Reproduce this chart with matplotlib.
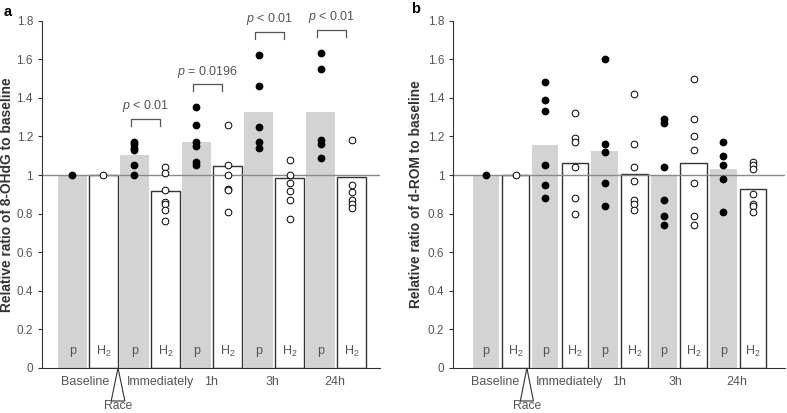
import matplotlib
matplotlib.use('Agg')
from matplotlib import pyplot as plt
from matplotlib import transforms
import numpy as np

plt.rcParams['font.family'] = ['Liberation Sans', 'DejaVu Sans']
plt.rcParams['mathtext.fontset'] = 'custom'
plt.rcParams['mathtext.rm'] = 'Liberation Sans'
plt.rcParams['mathtext.it'] = 'Liberation Sans:italic'

groups = ['Baseline', 'Immediately', '1h', '3h', '24h']
bar_labels = ['p', 'H$_2$'] * 5

# bar heights, order: p, H2 for each time point
ohdg_bars = [1.0, 1.0, 1.104, 0.919, 1.173, 1.047, 1.328, 0.983, 1.328, 0.991]
ohdg_points = [
    [1.0],
    [1.0],
    [1.17, 1.16, 1.14, 1.13, 1.05, 1.0],
    [1.04, 1.01, 0.92, 0.86, 0.85, 0.82, 0.76],
    [1.35, 1.26, 1.17, 1.15, 1.07, 1.05],
    [1.26, 1.05, 1.0, 0.93, 0.92, 0.81],
    [1.62, 1.46, 1.25, 1.17, 1.14],
    [1.08, 1.0, 0.96, 0.915, 0.87, 0.77],
    [1.63, 1.55, 1.18, 1.16, 1.09],
    [1.18, 0.95, 0.91, 0.87, 0.85, 0.83],
]
ohdg_pvals = [None, '$p$ < 0.01', '$p$ = 0.0196', '$p$ < 0.01', '$p$ < 0.01']

drom_bars = [1.0, 1.0, 1.157, 1.062, 1.124, 1.004, 0.998, 1.062, 1.03, 0.93]
drom_points = [
    [1.0],
    [1.0],
    [1.48, 1.39, 1.33, 1.05, 0.95, 0.88],
    [1.32, 1.19, 1.17, 1.04, 0.88, 0.80],
    [1.60, 1.16, 1.12, 0.96, 0.84],
    [1.42, 1.16, 1.04, 0.97, 0.87, 0.85, 0.82],
    [1.29, 1.27, 1.04, 0.87, 0.79, 0.74],
    [1.50, 1.29, 1.20, 1.13, 0.96, 0.79, 0.74],
    [1.17, 1.10, 1.05, 0.98, 0.81],
    [1.07, 1.05, 1.03, 0.90, 0.85, 0.84, 0.81],
]

yticks = [0, 0.2, 0.4, 0.6, 0.8, 1.0, 1.2, 1.4, 1.6, 1.8]

grey = '#d3d3d3'
textcol = '#555555'
axcol = '#333333'


def drawpanel(ax, bars, points, ylabel, letter, pvals, xlim, width, label_x, race_x,
              ylabel_x, letter_xy):
    x = np.arange(len(bars))
    for i in range(len(bars)):
        if i % 2 == 0:
            ax.bar(x[i], bars[i], width, color=grey, edgecolor='none', zorder=1)
        else:
            ax.bar(x[i], bars[i], width, color='white', edgecolor=axcol, linewidth=1.0, zorder=1)
        ax.text(x[i], 0.088, bar_labels[i], ha='center', va='center', fontsize=9, color=textcol, zorder=3)
        pts = points[i]
        if i % 2 == 0:
            ax.plot([x[i]] * len(pts), pts, 'o', color='black', markersize=4.6, zorder=4, clip_on=False)
        else:
            ax.plot([x[i]] * len(pts), pts, 'o', markerfacecolor='white', markeredgecolor='black',
                    markeredgewidth=0.7, markersize=4.8, zorder=4, clip_on=False)

    ax.axhline(1.0, color='#8a8a8a', linewidth=1.0, zorder=2)

    # p-value brackets
    if pvals is not None:
        for g in range(len(pvals)):
            if pvals[g] is None:
                continue
            xp = x[2 * g]
            top = max(points[2 * g]) + 0.12
            x0 = xp - 0.1
            x1 = xp + 0.83
            ax.plot([x0, x0, x1, x1], [top - 0.035, top, top, top - 0.035], color=textcol, linewidth=0.9)
            ax.text((x0 + x1) / 2, top + 0.025, pvals[g], ha='center', va='bottom', fontsize=9, color=textcol)

    ax.set_xlim(xlim)
    ax.set_ylim(0, 1.8)
    ax.set_yticks(yticks)
    ax.set_yticklabels(['%g' % v for v in yticks])
    ax.set_xticks([])
    ax.tick_params(axis='y', direction='out', length=3, width=0.8, colors=axcol, labelcolor=textcol, labelsize=8.5)
    for s in ['top', 'right']:
        ax.spines[s].set_visible(False)
    ax.spines['left'].set_color(axcol)
    ax.spines['bottom'].set_color(axcol)
    ax.set_ylabel(ylabel, fontsize=9.9, fontweight='bold', color='#333333')
    ax.yaxis.set_label_coords(ylabel_x, 0.5)

    trans = transforms.blended_transform_factory(ax.transData, ax.transAxes)
    for g in range(len(groups)):
        ax.text(label_x[g], -0.039, groups[g], transform=trans, ha='center', va='center',
                fontsize=9, color=textcol)

    # race triangle
    tri = plt.Polygon([[race_x, 0.0], [race_x - 0.22, -0.095], [race_x + 0.22, -0.095]], closed=True,
                      facecolor='white', edgecolor=axcol, linewidth=0.8, transform=trans, clip_on=False)
    ax.add_patch(tri)
    ax.text(race_x, -0.11, 'Race', transform=trans, ha='center', va='center', fontsize=8.7, color=textcol)

    ax.text(letter_xy[0], letter_xy[1], letter, transform=ax.transAxes, fontsize=10.5,
            fontweight='bold', va='top', ha='left')


fig = plt.figure(figsize=(7.87, 4.13), dpi=100)
ax1 = fig.add_axes([0.0534, 0.109, 0.4296, 0.841])
ax2 = fig.add_axes([0.576, 0.109, 0.4215, 0.841])

drawpanel(ax1, ohdg_bars, ohdg_points, 'Relative ratio of 8-OHdG to baseline', 'a', ohdg_pvals,
          (-0.98, 9.92), 0.93, [0.42, 2.84, 4.47, 6.45, 8.46], 1.47, -0.083, (-0.115, 1.045))
drawpanel(ax2, drom_bars, drom_points, 'Relative ratio of d-ROM to baseline', 'b', None,
          (-1.10, 10.08), 0.89, [0.3, 2.8, 4.47, 6.4, 8.45], 1.38, -0.092, (-0.128, 1.055))

fig.savefig('out.png', dpi=100)
